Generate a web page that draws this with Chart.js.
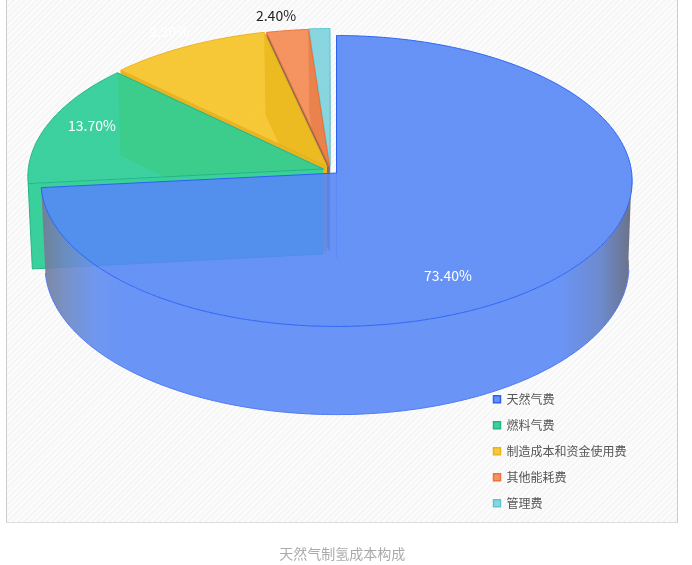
<!DOCTYPE html>
<html>
<head>
<meta charset="utf-8">
<style>
  body { margin: 0; background: #fff; }
  #plot {
    position: absolute; left: 6px; top: 0; width: 670px; height: 522px;
    border: 1px solid #ccc; border-top: 0; border-bottom-color: #ddd;
    background: repeating-linear-gradient(135deg, #f6f6f6 0, #f6f6f6 2px, #fcfcfc 2px, #fcfcfc 4px);
  }
  canvas { position: absolute; left: 0; top: 0; }
</style>
</head>
<body>
<div id="plot"></div>
<canvas id="cost-chart" width="692" height="565"></canvas>
<script src="https://cdn.jsdelivr.net/npm/chart.js@4/dist/chart.umd.js"></script>
<script>
const categories = ["天然气费", "燃料气费", "制造成本和资金使用费", "其他能耗费", "管理费"];
const values = [73.4, 13.7, 9.3, 2.4, 1.2];

const fillColors = ["rgba(87,135,246,0.9)", "rgba(41,204,150,0.9)", "rgba(246,195,36,0.9)", "rgba(245,136,80,0.9)", "rgba(124,209,221,0.9)"];
const lineColors = ["#2b62f5", "#22b487", "#e9b21f", "#ee7238", "#5cc5d2"];
const wallColors = ["#5787f6", "#3ad09b", "#e8b522", "#8c6a58", "#7cd1dd"];
const backWallColors = ["#5787f6", "#ebd737", "#8a6c10", "#7d4a2a", "#5c9aa3"];

// how far each slice is pulled out of the pie, in px
const shiftX = [0, -13, -9.5, -7, -6.5];
const shiftY = [0, -4, -6.5, -6.5, -7];

const labelX = [448, 92, 169, 276];
const labelY = [276, 126, 32, 16];
const labelColors = ["#fff", "#fff", "#fff", "#222"];

const FONT = '"Noto Sans CJK SC", "Noto Sans", sans-serif';
const TILT = 0.0549;
const TOP = { x: 336.5, y: 173, rx: 295.2, ry: 145 };
const BOTTOM = { x: 337, y: 258, rx: 291.5, ry: 148 };

// circle angle -> point on the tilted disc
function project(face, i, angle) {
  const u = Math.cos(angle);
  const v = Math.sin(angle);
  const w = 1 - TILT * v;
  return {
    x: face.x + shiftX[i] + face.rx * u / w,
    y: face.y + shiftY[i] + face.ry * v / w
  };
}

function traceArc(ctx, face, i, from, to) {
  const steps = Math.max(2, Math.ceil(Math.abs(to - from) / 0.01));
  for (let s = 0; s <= steps; s++) {
    const p = project(face, i, from + (to - from) * s / steps);
    ctx.lineTo(p.x, p.y);
  }
}

function drawRadialWall(ctx, i, angle, color) {
  const a = project(TOP, i, angle);
  const b = project(BOTTOM, i, angle);
  const cx = TOP.x + shiftX[i];
  const cy = TOP.y + shiftY[i];
  ctx.beginPath();
  ctx.moveTo(cx, cy);
  ctx.lineTo(a.x, a.y);
  ctx.lineTo(b.x, b.y);
  ctx.lineTo(cx, BOTTOM.y + shiftY[i]);
  ctx.closePath();
  ctx.fillStyle = color;
  ctx.fill();
}

function drawTop(ctx, i, arc) {
  ctx.beginPath();
  ctx.moveTo(TOP.x + shiftX[i], TOP.y + shiftY[i]);
  traceArc(ctx, TOP, i, arc.startAngle, arc.endAngle);
  ctx.closePath();
  ctx.fillStyle = fillColors[i];
  ctx.fill();
  ctx.lineWidth = 1;
  ctx.strokeStyle = lineColors[i];
  ctx.stroke();
}

function drawBlueWall(ctx, arc) {
  const from = 0;
  const to = arc.endAngle;
  const grad = ctx.createLinearGradient(45, 0, 630, 0);
  grad.addColorStop(0, "rgba(115,125,155,0.92)");
  grad.addColorStop(0.04, "rgba(108,138,200,0.92)");
  grad.addColorStop(0.09, "rgba(103,146,240,0.95)");
  grad.addColorStop(0.14, "rgba(103,146,246,0.98)");
  grad.addColorStop(0.88, "rgba(103,146,246,0.98)");
  grad.addColorStop(0.95, "rgba(106,136,205,0.98)");
  grad.addColorStop(1, "rgba(105,112,135,0.98)");
  ctx.beginPath();
  traceArc(ctx, TOP, 0, from, to);
  traceArc(ctx, BOTTOM, 0, to, from);
  ctx.closePath();
  ctx.fillStyle = grad;
  ctx.fill();
  ctx.beginPath();
  traceArc(ctx, BOTTOM, 0, from + 0.08, to);
  ctx.lineWidth = 1;
  ctx.strokeStyle = "#4a78f5";
  ctx.stroke();
  // seam of the cut face at twelve o'clock
  ctx.beginPath();
  ctx.moveTo(TOP.x, TOP.y);
  ctx.lineTo(TOP.x, BOTTOM.y);
  ctx.strokeStyle = "rgba(70,110,245,0.5)";
  ctx.stroke();
}

const pie3d = {
  id: "pie3d",
  beforeDatasetsDraw(chart) {
    const ctx = chart.ctx;
    const arcs = chart.getDatasetMeta(0).data;
    ctx.save();
    // back to front: the pulled-out slices first, the big one last
    for (let i = arcs.length - 1; i >= 1; i--) {
      drawRadialWall(ctx, i, arcs[i].endAngle, backWallColors[i]);
      drawRadialWall(ctx, i, arcs[i].startAngle, wallColors[i]);
      drawTop(ctx, i, arcs[i]);
      const a = project(TOP, i, arcs[i].startAngle);
      ctx.beginPath();
      ctx.moveTo(a.x, a.y);
      const b = project(BOTTOM, i, arcs[i].startAngle);
      ctx.lineTo(b.x, b.y);
      ctx.lineTo(TOP.x + shiftX[i], BOTTOM.y + shiftY[i]);
      ctx.strokeStyle = lineColors[i];
      ctx.stroke();
    }
    drawBlueWall(ctx, arcs[0]);
    drawTop(ctx, 0, arcs[0]);

    ctx.font = "14px " + FONT;
    ctx.textAlign = "center";
    ctx.textBaseline = "middle";
    labelX.forEach(function(x, i) {
      ctx.fillStyle = labelColors[i];
      ctx.fillText(values[i].toFixed(2) + "%", x, labelY[i]);
    });
    ctx.restore();
    return false;
  }
};

const defaultLabels = Chart.overrides.pie.plugins.legend.labels.generateLabels;

new Chart(document.getElementById("cost-chart"), {
  type: "pie",
  data: {
    labels: categories,
    datasets: [
      {
        data: values,
        backgroundColor: fillColors,
        borderColor: lineColors,
        borderWidth: 1
      }
    ]
  },
  plugins: [pie3d],
  options: {
    responsive: false,
    animation: false,
    devicePixelRatio: 1,
    layout: { padding: { left: 48, right: 55.5, bottom: 3 } },
    plugins: {
      tooltip: { enabled: false },
      legend: {
        position: "right",
        align: "end",
        fullSize: false,
        labels: {
          boxWidth: 7,
          boxHeight: 7,
          padding: 14,
          color: "#555",
          font: { family: FONT, size: 12 },
          generateLabels: function(chart) {
            return defaultLabels(chart).map(function(item) {
              item.lineWidth = 1.5;
              return item;
            });
          }
        }
      },
      title: {
        display: true,
        position: "bottom",
        text: "天然气制氢成本构成",
        color: "#aaa",
        font: { family: FONT, size: 14, weight: "normal" },
        padding: { top: 22, bottom: 0 }
      }
    }
  }
});
</script>
</body>
</html>
